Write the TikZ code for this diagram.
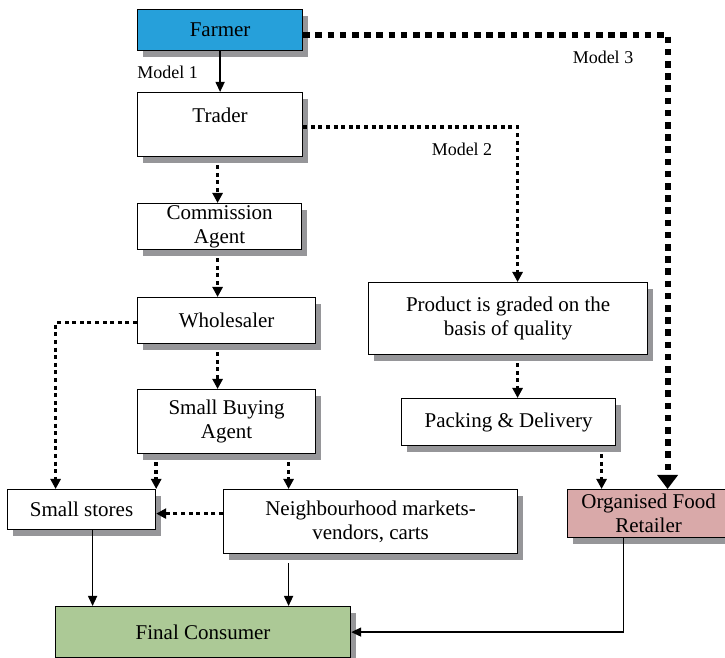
\documentclass[tikz,border=0pt]{standalone}
\usepackage{fontspec}
\setmainfont{Liberation Serif}
\usepackage{xcolor}
\usepackage{tikz}
\usetikzlibrary{arrows.meta,shadows}
\definecolor{farmerblue}{RGB}{38,160,218}
\definecolor{consumergreen}{RGB}{172,201,150}
\definecolor{retailerpink}{RGB}{217,169,169}
\definecolor{shadowgray}{RGB}{150,150,153}

\begin{document}
\begin{tikzpicture}[
        x=0.5pt, y=-0.5pt,
        box/.style={draw, line width=0.6pt, anchor=north west, align=center, inner xsep=2pt, inner ysep=0.5pt, font=\fontsize{10.5}{12}\selectfont, fill=white, drop shadow={shadow xshift=2.5pt, shadow yshift=-3pt, fill=shadowgray, opacity=1}},
        farmerbox/.style={box, fill=farmerblue},
        consumerbox/.style={box, fill=consumergreen},
        retailerbox/.style={box, fill=retailerpink},
        lbl/.style={font=\fontsize{9}{10}\selectfont, inner sep=0pt},
        arr/.style={-{Triangle[length=5pt, width=4.5pt]}, line width=0.7pt},
        dotarr/.style={-{Triangle[length=5pt, width=5pt]}, line width=1.8pt, dash pattern=on 2pt off 1.8pt},
        bigdotarr/.style={-{Triangle[length=7pt, width=10pt]}, line width=3pt, dash pattern=on 3.3pt off 2.8pt},
        offshadow/.style={shorten <=4pt}
    ]
    \useasboundingbox (0,0) rectangle (725,658);

    \node[farmerbox, minimum width=82.5pt, minimum height=20.5pt] (farmer) at (137,9) {Farmer};
    \node[box, minimum width=82.5pt, minimum height=32pt, text height=7.5pt, text depth=9.5pt] (trader) at (137,92) {Trader};
    \node[box, minimum width=82pt, minimum height=23pt] (commission) at (137,203) {Commission\\Agent};
    \node[box, minimum width=89pt, minimum height=23pt] (wholesaler) at (137,297) {Wholesaler};
    \node[box, minimum width=89pt, minimum height=32pt] (buying) at (137,389) {Small Buying\\Agent};
    \node[box, minimum width=74pt, minimum height=20pt] (stores) at (7,489) {Small stores};
    \node[box, minimum width=147pt, minimum height=32pt] (markets) at (223,489) {Neighbourhood markets-\\vendors, carts};
    \node[consumerbox, minimum width=147.5pt, minimum height=25.5pt] (consumer) at (55,606) {Final Consumer};
    \node[box, minimum width=139.5pt, minimum height=36pt] (graded) at (368,282) {Product is graded on the\\basis of quality};
    \node[box, minimum width=107pt, minimum height=23.5pt] (packing) at (401,398) {Packing \& Delivery};
    \node[retailerbox, minimum width=81pt, minimum height=24pt] (retailer) at (567,489) {Organised Food\\Retailer};

    \node[lbl, anchor=west] (model1) at (137,72) {Model 1};
    \node[lbl] (model2) at (462,149) {Model 2};
    \node[lbl] (model3) at (603,57) {Model 3};

    \draw[arr] (farmer) -- (trader);
    \draw[bigdotarr] ([yshift=-2.5pt]farmer.east) -| ([xshift=9.5pt]retailer.north);
    \draw[dotarr] ([yshift=-1.25pt]trader.east) -| ([xshift=4.75pt]graded.north);
    \draw[dotarr, offshadow] ([xshift=-1.25pt]trader.south) -- ([xshift=-1pt]commission.north);
    \draw[dotarr, offshadow] ([xshift=-1pt]commission.south) -- ([xshift=-1pt]commission.south |- wholesaler.north);
    \draw[dotarr, offshadow] ([xshift=-1pt]commission.south |- wholesaler.south) -- ([xshift=-1pt]commission.south |- buying.north);
    \draw[dotarr] ([yshift=-1pt]wholesaler.west) -| ([xshift=-13pt]stores.north);
    \draw[dotarr, offshadow] (buying.south -| stores.north east) -- (stores.north east);
    \draw[dotarr, offshadow] ([xshift=-41pt]buying.south -| markets.north) -- ([xshift=-41pt]markets.north);
    \draw[dotarr] ([yshift=4pt]markets.west) -- ([yshift=4pt]markets.west -| stores.east);
    \draw[dotarr, offshadow] ([xshift=4.75pt]graded.south) -- ([xshift=4.75pt]graded.south |- packing.north);
    \draw[dotarr, offshadow] ([xshift=46.5pt]packing.south) -- ([xshift=46.5pt]packing.south |- retailer.north);
    \draw[arr] ([xshift=5.5pt]stores.south) -- ([xshift=5.5pt]stores.south |- consumer.north);
    \draw[arr, shorten <=4.5pt] ([xshift=-41pt]markets.south) -- ([xshift=-41pt]markets.south |- consumer.north);
    \draw[arr] ([xshift=-12.5pt]retailer.south) |- (consumer.east);
    \end{tikzpicture}
\end{document}
